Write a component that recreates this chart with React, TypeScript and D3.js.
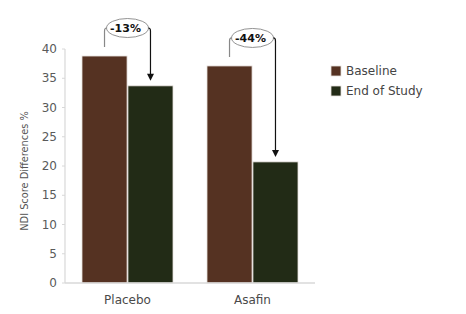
import React from "react";
import * as d3 from "d3";

const categories = ["Placebo", "Asafin"];
const seriesNames = ["Baseline", "End of Study"];
const baselineValues = [38.8, 37.1];
const endValues = [33.7, 20.7];
const changeLabels = ["-13%", "-44%"];
const yTicks = [0, 5, 10, 15, 20, 25, 30, 35, 40];
const colors = ["#553222", "#222b16"];

const W = 466;
const H = 314;
const margin = { left: 65, right: 151, top: 49, bottom: 31 };

export default function App() {
  const x0 = d3
    .scaleBand<string>()
    .domain(categories)
    .range([margin.left, W - margin.right])
    .paddingInner(0.272)
    .paddingOuter(0.136);
  const x1 = d3
    .scaleBand<string>()
    .domain(seriesNames)
    .range([0, x0.bandwidth()])
    .paddingInner(0.02);
  const y = d3.scaleLinear().domain([0, 40]).range([H - margin.bottom, margin.top]);

  const font = "'DejaVu Sans', sans-serif";
  const values = [baselineValues, endValues];

  return (
    <svg width={W} height={H} style={{ position: "absolute", left: 0, top: 0 }} fontFamily={font}>
      <rect x={0} y={0} width={W} height={H} fill="#fff" />
      {/* y axis */}
      <line x1={margin.left} x2={margin.left} y1={y(40)} y2={y(0)} stroke="#d8d8d8" strokeWidth={1.2} />
      {yTicks.map((t) => (
        <g key={t}>
          <line x1={margin.left - 3} x2={margin.left} y1={y(t)} y2={y(t)} stroke="#d8d8d8" />
          <text x={margin.left - 8} y={y(t)} dy="0.35em" textAnchor="end" fontSize={12} fill="#5a5a5a">
            {t}
          </text>
        </g>
      ))}
      <text
        transform={`translate(${28},${171}) rotate(-90)`}
        textAnchor="middle"
        fontSize={9.8}
        fill="#555"
      >
        NDI Score Differences %
      </text>
      {/* bars */}
      {categories.map((c, i) => (
        <g key={c}>
          {seriesNames.map((s, j) => (
            <rect
              key={s}
              x={(x0(c) as number) + (x1(s) as number)}
              y={y(values[j][i])}
              width={x1.bandwidth()}
              height={y(0) - y(values[j][i])}
              fill={colors[j]}
              stroke="#e6e0dc"
              strokeWidth={0.8}
            />
          ))}
          <text
            x={(x0(c) as number) + x0.bandwidth() / 2}
            y={y(0) + 17}
            dy="0.35em"
            textAnchor="middle"
            fontSize={12}
            fill="#4a4a4a"
          >
            {c}
          </text>
        </g>
      ))}
      {/* x axis */}
      <line x1={margin.left} x2={W - margin.right} y1={y(0)} y2={y(0)} stroke="#d8d8d8" strokeWidth={1.5} />
      {/* annotations */}
      {categories.map((c, i) => {
        const xl = (x0(c) as number) + (x1(seriesNames[0]) as number) + x1.bandwidth() / 2;
        const xr = (x0(c) as number) + (x1(seriesNames[1]) as number) + x1.bandwidth() / 2;
        const yb = y(baselineValues[i]);
        const ye = y(endValues[i]);
        const cy = yb - 28;
        const cx = (xl + xr) / 2;
        const rx = (xr - xl) / 2 - 2;
        const tip = ye - 5;
        return (
          <g key={"a" + c}>
            <path
              d={`M${xl},${yb - 9} L${xl},${cy + 3} Q${xl},${cy} ${xl + 2},${cy}`}
              fill="none"
              stroke="#888"
              strokeWidth={1.2}
            />
            <ellipse cx={cx} cy={cy} rx={rx} ry={9.5} fill="#fff" stroke="#777" strokeWidth={0.8} />
            <path
              d={`M${xr - 2},${cy} Q${xr},${cy} ${xr},${cy + 3} L${xr},${tip - 6}`}
              fill="none"
              stroke="#111"
              strokeWidth={1.2}
            />
            <path d={`M${xr - 3.5},${tip - 7} L${xr + 3.5},${tip - 7} L${xr},${tip} Z`} fill="#111" />
            <text x={cx - 2} y={cy} dy="0.35em" textAnchor="middle" fontSize={11} fontWeight="bold" fill="#111">
              {changeLabels[i]}
            </text>
          </g>
        );
      })}
      {/* legend */}
      {seriesNames.map((s, j) => (
        <g key={s} transform={`translate(331,${66 + j * 20})`}>
          <rect x={0} y={0} width={10} height={10} fill={colors[j]} stroke="#e6e0dc" strokeWidth={0.8} />
          <text x={15} y={5} dy="0.35em" fontSize={12} fill="#444">
            {s}
          </text>
        </g>
      ))}
    </svg>
  );
}
